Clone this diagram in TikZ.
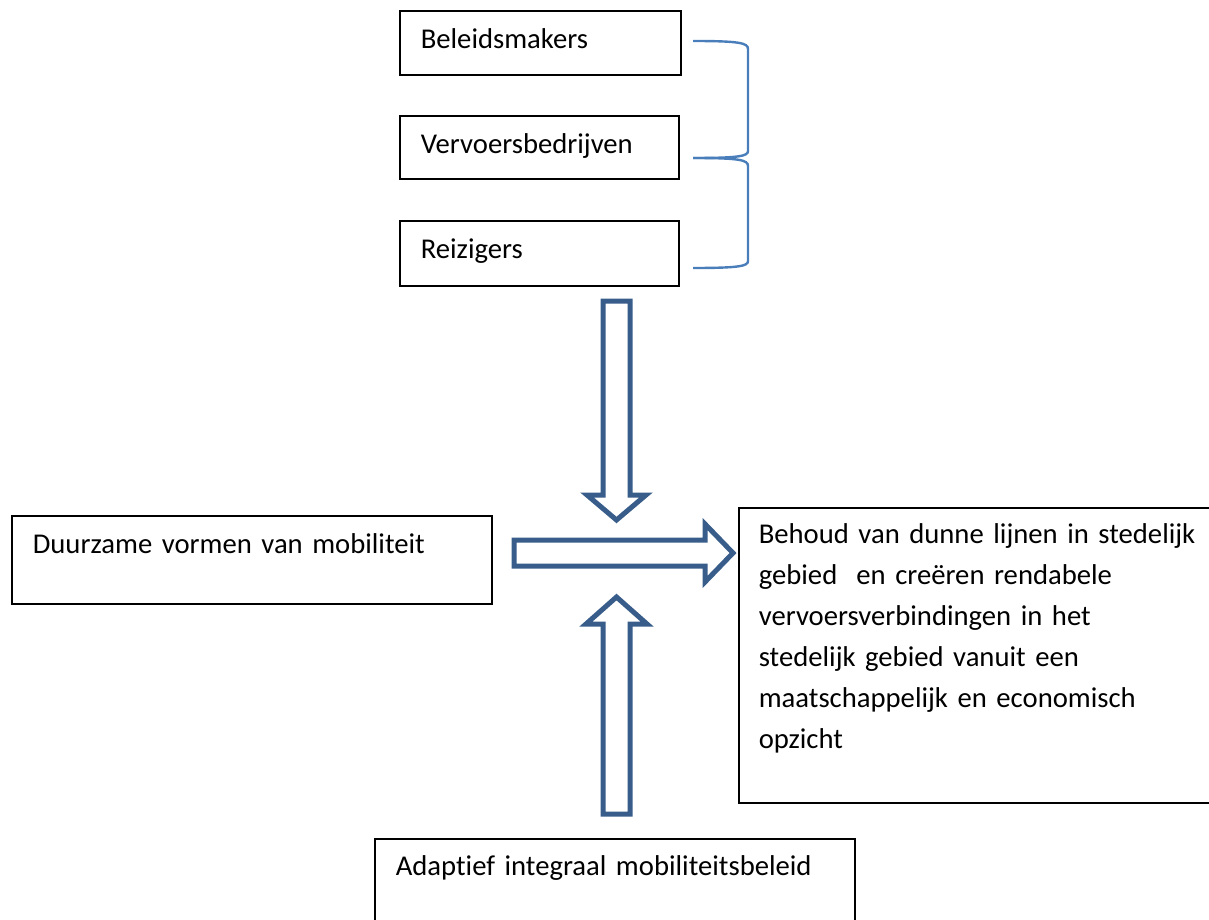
\documentclass[tikz,border=0pt]{standalone}
\usepackage{fontspec}
\setmainfont{Carlito}[Ligatures=CommonOff]
\usepackage{tikz}
\usepackage{xcolor}
\definecolor{mobarrow}{RGB}{56,93,138}
\definecolor{mobbrace}{RGB}{74,126,187}
\definecolor{mobstroke}{RGB}{0,0,0}

\begin{document}
\begin{tikzpicture}[
    x=0.75pt, y=-0.75pt,
    labelbox/.style={draw=mobstroke, rectangle, anchor=north west, line width=1.2pt, inner xsep=15.75pt, inner ysep=0pt, align=left, text height=28.5pt},
    blockarrow/.style={draw=mobarrow, fill=white, line width=3.75pt, line join=miter},
    bracket/.style={draw=mobbrace, line width=1.8pt},
    every node/.style={font=\fontsize{21.5}{30.75}\selectfont},
]
  \useasboundingbox (0,0) rectangle (1209,920);
  % actors
  \node[labelbox, text width=179.25pt, text depth=19.5pt] (beleid) at (399,10) {Beleidsmakers};
  \node[labelbox, text width=177.75pt, text depth=18.75pt] (vervoer) at (399,115) {Vervoersbedrijven};
  \node[labelbox, text width=177.75pt, text depth=20.25pt] (reiziger) at (399,220) {Reizigers};
  % brace
  \draw[bracket] (693,41) .. controls (740,41) and (748,43) .. (748,49) -- (748,151) .. controls (748,156) and (740,158) .. (693,158);
  \draw[bracket] (693,158) .. controls (740,158) and (748,160) .. (748,166) -- (748,261) .. controls (748,266) and (740,268) .. (693,268);
  % outer boxes
  \node[labelbox, text width=328.5pt, text depth=37.5pt] (duurzaam) at (11,515) {Duurzame vormen van mobiliteit};
  \node[labelbox, inner xsep=15pt, text width=340pt, text height=27pt, text depth=194.25pt] (behoud) at (738,507)
    {Behoud van dunne lijnen in stedelijk\\gebied\ \ en creëren rendabele\\vervoersverbindingen in het\\stedelijk gebied vanuit een\\maatschappelijk en economisch\\opzicht};
  \node[labelbox, text width=328.5pt, text height=27.75pt, text depth=45pt] (beleidsplan) at (374,838) {Adaptief integraal mobiliteitsbeleid};
  % block arrows
  \draw[blockarrow] (603,301) -- (630,301) -- (630,495) -- (646,495) -- (616.5,520) -- (587,495) -- (603,495) -- cycle;
  \draw[blockarrow] (603,814) -- (630,814) -- (630,624) -- (647,624) -- (616.5,597) -- (586,624) -- (603,624) -- cycle;
  \draw[blockarrow] (514,540) -- (705,540) -- (705,524) -- (733,553) -- (705,582) -- (705,566) -- (514,566) -- cycle;
\end{tikzpicture}
\end{document}
